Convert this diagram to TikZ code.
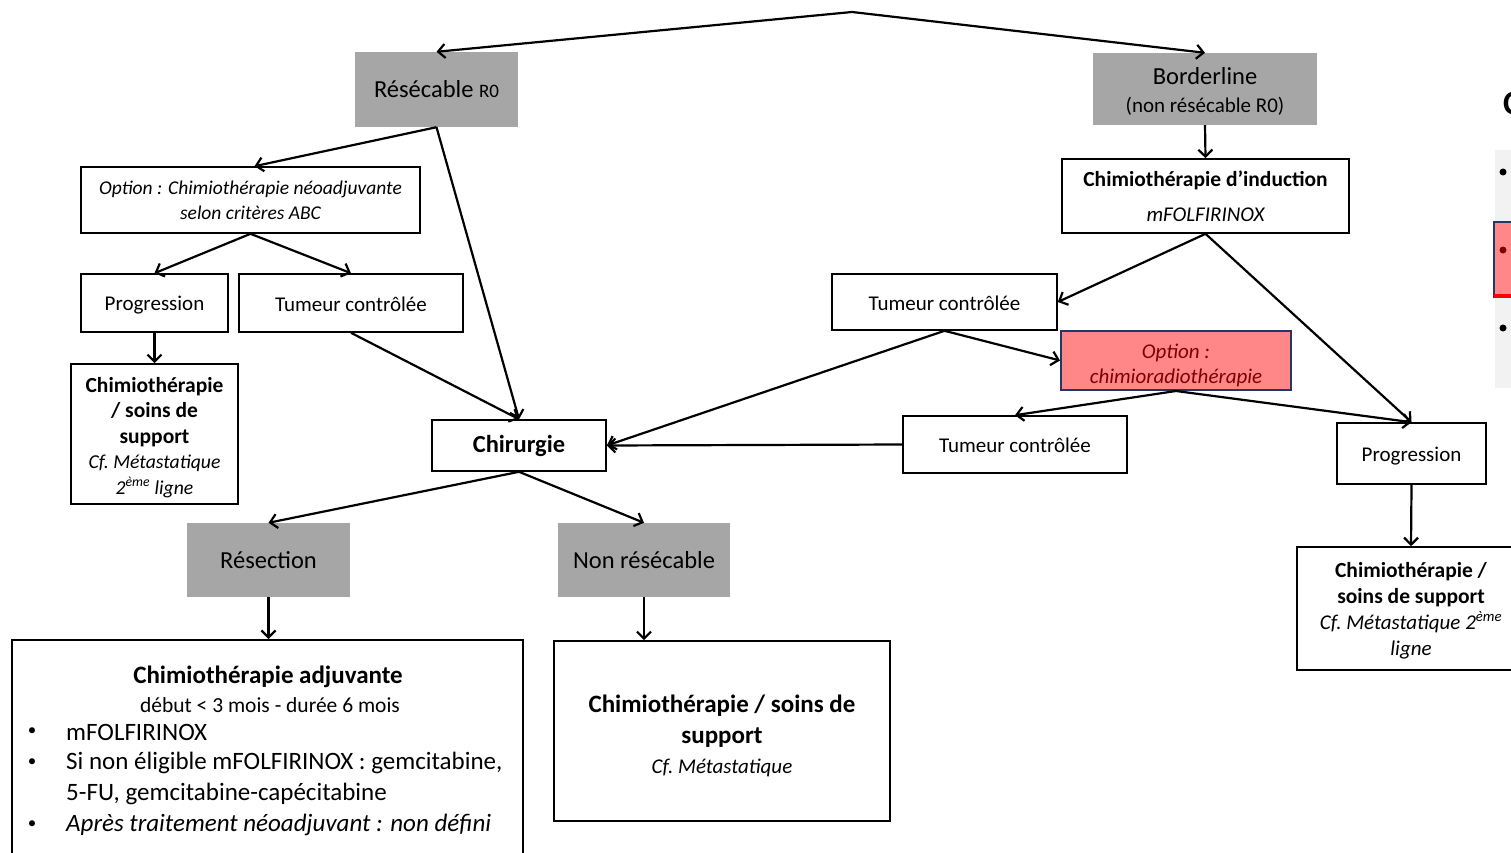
\documentclass[tikz,border=0pt]{standalone}
\usepackage{fontspec}
\setmainfont{Carlito}
\usetikzlibrary{arrows.meta}
\definecolor{gboxc}{RGB}{166,166,166}
\definecolor{redfill}{RGB}{255,135,135}
\definecolor{navyb}{RGB}{32,56,100}
\definecolor{darkredt}{RGB}{128,0,0}
\definecolor{panelc}{RGB}{242,242,242}
\newcommand\myfs[2]{\fontsize{#1}{#2}\selectfont}
\newcommand\itl[1]{\mdseries\itshape\fontsize{#1}{10}\selectfont}
\begin{document}
\begin{tikzpicture}[x=1pt,y=-1pt,
  gbox/.style={fill=gboxc, inner sep=0pt, align=center},
  wbox/.style={draw=black, line width=1.6pt, fill=white, inner sep=0pt, align=center},
  rbox/.style={draw=navyb, line width=2pt, fill=redfill, inner sep=0pt, align=center, text=darkredt},
  arr/.style={line width=2.2pt, -{Straight Barb[length=7pt,width=14pt]}},
  txt/.style={inner sep=0pt, align=center},
  lbl/.style={inner sep=0pt, anchor=west},
]
\useasboundingbox (0,0) rectangle (1511,853);
\clip (0,0) rectangle (1511,853);

% right-edge partial panel
\fill[panelc] (1495,150) rectangle (1530,388);
\node[txt, anchor=west] (cpart) at (1503,103) {\bfseries\myfs{34}{40}C};
\fill (1503,172) circle (3.5pt);
\draw[navyb, line width=1.8pt, fill=redfill] (1494,222) rectangle (1530,297);
\draw[red, line width=3.5pt] (1494,296) -- (1530,296);
\fill[darkredt] (1503,250) circle (3.5pt);
\fill (1503,328) circle (3.5pt);

\coordinate (apex) at (852,12);

% left branch
\node[gbox, minimum width=163pt, minimum height=75pt, font=\myfs{24.5}{28}] (res) at (436.5,89.5)
  {Résécable {\myfs{19}{28}R0}};
\node[wbox, minimum width=339pt, minimum height=66pt, font=\itshape\myfs{19.5}{25}] (opt) at (250.5,200)
  {Option : Chimiothérapie néoadjuvante\\selon critères ABC};
\node[wbox, minimum width=147pt, minimum height=58pt, font=\myfs{21}{25}] (prog1) at (154.5,303)
  {\rule{0pt}{19pt}Progression};
\node[wbox, minimum width=224pt, minimum height=58pt, font=\myfs{21}{25}] (tum1) at (351,303)
  {\rule{0pt}{17pt}Tumeur contrôlée};
\node[wbox, minimum width=167pt, minimum height=140pt, font=\bfseries\myfs{21.5}{25.5}] (chl) at (154.5,434)
  {\rule{0pt}{22pt}Chimiothérapie\\/ soins de\\support\\\itl{19.7}Cf.\ Métastatique\\\itl{19.7}2\textsuperscript{ème} ligne};
\node[wbox, minimum width=174pt, minimum height=51pt, font=\bfseries\myfs{24.5}{28}] (chir) at (519,445.5)
  {Chirurgie};
\node[gbox, minimum width=163pt, minimum height=74pt, font=\myfs{24.5}{28}] (resec) at (268.5,560)
  {Résection};
\node[gbox, minimum width=172pt, minimum height=74pt, font=\myfs{24.5}{28}] (nonres) at (644,560)
  {Non résécable};

\node[wbox, minimum width=511pt, minimum height=240pt, anchor=north] (adj) at (267.5,639) {};
\node[txt] (adjt) at (268,677) {\bfseries\myfs{25}{30}Chimiothérapie adjuvante};
\node[txt] (adjs) at (270,705) {\myfs{21.5}{26}début < 3 mois - durée 6 mois};
\node[txt] (b1) at (32,732) {\myfs{17}{20}\textbullet};
\node[lbl] (l1) at (66,732) {\myfs{25}{31}mFOLFIRINOX};
\node[txt] (b2) at (32,763) {\myfs{17}{20}\textbullet};
\node[lbl] (l2) at (66,763) {\myfs{25}{31}Si non éligible mFOLFIRINOX : gemcitabine,};
\node[lbl] (l3) at (66,794) {\myfs{25}{31}5-FU, gemcitabine-capécitabine};
\node[txt] (b3) at (32,825) {\myfs{17}{20}\textbullet};
\node[lbl] (l4) at (66,825) {\itshape\myfs{25}{31}Après traitement néoadjuvant : non défini};

\node[wbox, minimum width=336pt, minimum height=180pt, font=\bfseries\myfs{25}{30.5}] (nr) at (722,731)
  {\rule{0pt}{28pt}Chimiothérapie / soins de\\support\\\itl{21}Cf.\ Métastatique};

% right branch
\node[gbox, minimum width=224pt, minimum height=72pt, font=\myfs{24.5}{28}] (bord) at (1205,89)
  {\rule{0pt}{21pt}Borderline\\\myfs{21}{10}(non résécable R0)};
\node[wbox, minimum width=287pt, minimum height=74pt, font=\bfseries\myfs{21.5}{35}] (ind) at (1205.5,196)
  {Chimiothérapie d’induction\\\itl{21}mFOLFIRINOX};
\node[wbox, minimum width=225pt, minimum height=56pt, font=\myfs{21}{25}] (tum2) at (944.5,302)
  {\rule{0pt}{17pt}Tumeur contrôlée};
\node[rbox, minimum width=230pt, minimum height=59pt, font=\itshape\myfs{21}{25}] (opt2) at (1176,360.5)
  {\rule{0pt}{25pt}Option :\\chimioradiothérapie};
\node[wbox, minimum width=224pt, minimum height=57pt, font=\myfs{21}{25}] (tum3) at (1015,444.5)
  {\rule{0pt}{17pt}Tumeur contrôlée};
\node[wbox, minimum width=149pt, minimum height=61pt, font=\myfs{21}{25}] (prog2) at (1411.5,453.5)
  {\rule{0pt}{19pt}Progression};
\node[wbox, minimum width=228pt, minimum height=123pt, font=\bfseries\myfs{21.5}{26}] (chr) at (1411,608.5)
  {\rule{0pt}{19pt}Chimiothérapie /\\soins de support\\\itl{21}Cf.\ Métastatique 2\textsuperscript{ème}\\\itl{21}ligne};

% connectors
\draw[arr] (apex) -- (res.north);
\draw[arr] (apex) -- (bord.north);
\draw[arr] (res.south) -- ([xshift=4pt]opt.north);
\draw[arr] (res.south) -- (chir.north);
\draw[arr] (opt.south) -- (prog1.north);
\draw[arr] (opt.south) -- (tum1.north);
\draw[arr] (prog1.south) -- (chl.north);
\draw[arr] (tum1.south) -- (chir.north);
\draw[arr] (chir.south) -- (resec.north);
\draw[arr] (chir.south) -- (nonres.north);
\draw[arr] (resec.south) -- (resec.south |- adj.north);
\draw[arr] (nonres.south) -- (nonres.south |- nr.north);
\draw[arr] (bord.south) -- (ind.north);
\draw[arr] (ind.south) -- (tum2.east);
\draw[arr] (ind.south) -- (prog2.north);
\draw[arr] (tum2.south) -- (chir.east);
\draw[arr] (tum2.south) -- (opt2.west);
\draw[arr] (opt2.south) -- (tum3.north);
\draw[arr] (opt2.south) -- (prog2.north);
\draw[arr] (tum3.west) -- (chir.east);
\draw[arr] (prog2.south) -- (chr.north);
\end{tikzpicture}
\end{document}
